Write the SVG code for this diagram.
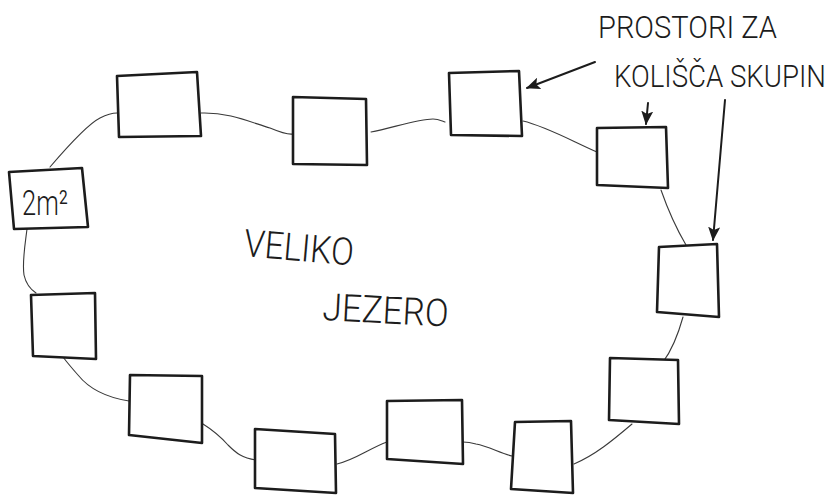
<svg xmlns="http://www.w3.org/2000/svg" width="839" height="495" viewBox="0 0 839 495">
  <style>
    .box { fill: #ffffff; stroke: #1c1c1c; stroke-width: 2.6; stroke-linejoin: round; }
    .con { fill: none; stroke: #3a3a3a; stroke-width: 1.1; stroke-linecap: round; }
    .arr { fill: none; stroke: #1c1c1c; stroke-width: 2; stroke-linecap: round; }
    .txt { font-family: "Roboto", "Liberation Sans", "DejaVu Sans", sans-serif; font-weight: 300; fill: #1c1c1c; }
  </style>
  <defs>
    <marker id="head" viewBox="0 0 14 12" refX="13" refY="6" markerWidth="14" markerHeight="12" markerUnits="userSpaceOnUse" orient="auto">
      <path d="M0,0 L14,6 L0,12 L3,6 Z" fill="#1c1c1c"/>
    </marker>
  </defs>
  <rect width="839" height="495" fill="#ffffff"/>

  <g id="connectors">
    <path class="con" d="M50,167 C68,146 88,124 100,118 C108,114 113,113 117,113"/>
    <path class="con" d="M201,113 C228,112 250,122 270,128 C282,133 288,135 293,134"/>
    <path class="con" d="M371,132 C392,128 418,119 433,119 C438,119 442,121 445,122"/>
    <path class="con" d="M523,121 C545,126 572,141 597,152"/>
    <path class="con" d="M661,190 C668,210 676,228 686,245"/>
    <path class="con" d="M683,317 C678,335 672,350 663,362"/>
    <path class="con" d="M632,424 C612,441 595,455 574,464"/>
    <path class="con" d="M512,456 C500,453 488,446 476,444 C469,442 466,442 463,442"/>
    <path class="con" d="M387,442 C370,448 355,460 337,464"/>
    <path class="con" d="M256,460 C242,458 236,453 228,445 C220,436 211,429 203,424"/>
    <path class="con" d="M129,401 C110,398 90,390 78,375 C70,366 66,361 63,357"/>
    <path class="con" d="M27,229 C25,245 22,262 24,275 C26,284 30,289 36,293"/>
    <path class="arr" d="M595,62 L527,88" marker-end="url(#head)"/>
    <path class="arr" d="M648,103 L646,124" marker-end="url(#head)"/>
    <path class="arr" d="M725,100 L713,240" marker-end="url(#head)"/>
  </g>

  <g id="node-2m2">
    <path class="box" d="M9,172 L82,168 L88,227 L14,229 Z"/>
    <text class="txt" x="22" y="215" font-size="35" textLength="46" lengthAdjust="spacingAndGlyphs">2m²</text>
  </g>
  <g id="node-a"><path class="box" d="M117,76 L197,72 L201,136 L119,137 Z"/></g>
  <g id="node-b"><path class="box" d="M293,97 L366,99 L367,165 L293,164 Z"/></g>
  <g id="node-c"><path class="box" d="M449,73 L519,71 L522,136 L451,135 Z"/></g>
  <g id="node-d"><path class="box" d="M597,128 L666,127 L668,188 L597,185 Z"/></g>
  <g id="node-e"><path class="box" d="M659,247 L717,244 L719,317 L657,312 Z"/></g>
  <g id="node-f"><path class="box" d="M610,358 L678,360 L679,424 L609,420 Z"/></g>
  <g id="node-g"><path class="box" d="M515,422 L571,421 L573,493 L511,489 Z"/></g>
  <g id="node-h"><path class="box" d="M387,401 L462,400 L463,464 L387,459 Z"/></g>
  <g id="node-i"><path class="box" d="M255,429 L335,434 L336,493 L255,488 Z"/></g>
  <g id="node-j"><path class="box" d="M130,375 L202,376 L202,443 L129,435 Z"/></g>
  <g id="node-k"><path class="box" d="M31,295 L95,293 L96,359 L33,356 Z"/></g>

  <g id="labels">
    <text class="txt" x="598" y="38" font-size="31" textLength="179" lengthAdjust="spacingAndGlyphs">PROSTORI ZA</text>
    <text class="txt" x="0" y="0" font-size="26" textLength="212" lengthAdjust="spacingAndGlyphs" transform="translate(614 87) scale(1 1.2)">KOLIŠČA SKUPIN</text>
    <text class="txt" x="243" y="256" font-size="38" textLength="110" lengthAdjust="spacingAndGlyphs" transform="rotate(5 243 256)">VELIKO</text>
    <text class="txt" x="322" y="320" font-size="38" textLength="126" lengthAdjust="spacingAndGlyphs" transform="rotate(3 322 320)">JEZERO</text>
  </g>
</svg>
